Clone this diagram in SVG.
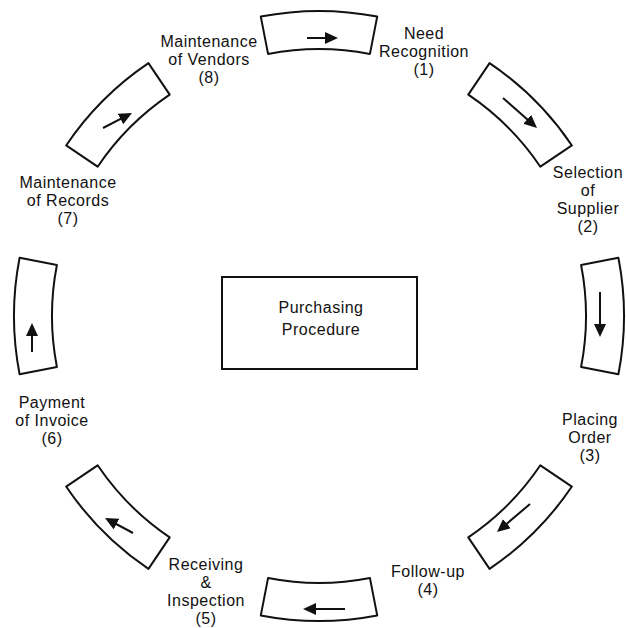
<svg xmlns="http://www.w3.org/2000/svg" width="626" height="628" viewBox="0 0 626 628">
  <style>
    .seg { fill: #fff; stroke: #111; stroke-width: 2; stroke-linejoin: round; }
    .arr { stroke: #111; stroke-width: 2; fill: none; marker-end: url(#head); }
    .lbl { font-family: "Liberation Sans", Arial, sans-serif; font-size: 16px; letter-spacing: 0.5px; fill: #111; text-anchor: middle; }
    .hub { fill: #fff; stroke: #111; stroke-width: 2; }
  </style>
  <defs>
    <marker id="head" viewBox="0 0 13 12" refX="4" refY="6" markerWidth="13" markerHeight="12" markerUnits="userSpaceOnUse" orient="auto">
      <path d="M0,0 L13,6 L0,12 Z" fill="#111"/>
    </marker>
  </defs>
  <rect width="626" height="628" fill="#fff"/>

  <!-- ring segments: annular sectors about (319,316), r 267..305, 22 degrees wide -->
  <g id="segments">
    <path id="seg-top" class="seg" d="M260.80,16.60 A305,305 0 0 1 377.20,16.60 L369.95,53.90 A267,267 0 0 0 268.05,53.90 Z"/>
    <path id="seg-top-right" class="seg" d="M489.55,63.14 A305,305 0 0 1 571.86,145.45 L540.35,166.70 A267,267 0 0 0 468.30,94.65 Z"/>
    <path id="seg-right" class="seg" d="M618.40,257.80 A305,305 0 0 1 618.40,374.20 L581.10,366.95 A267,267 0 0 0 581.10,265.05 Z"/>
    <path id="seg-bottom-right" class="seg" d="M571.86,486.55 A305,305 0 0 1 489.55,568.86 L468.30,537.35 A267,267 0 0 0 540.35,465.30 Z"/>
    <path id="seg-bottom" class="seg" d="M377.20,615.40 A305,305 0 0 1 260.80,615.40 L268.05,578.10 A267,267 0 0 0 369.95,578.10 Z"/>
    <path id="seg-bottom-left" class="seg" d="M148.45,568.86 A305,305 0 0 1 66.14,486.55 L97.65,465.30 A267,267 0 0 0 169.70,537.35 Z"/>
    <path id="seg-left" class="seg" d="M19.60,374.20 A305,305 0 0 1 19.60,257.80 L56.90,265.05 A267,267 0 0 0 56.90,366.95 Z"/>
    <path id="seg-top-left" class="seg" d="M66.14,145.45 A305,305 0 0 1 148.45,63.14 L169.70,94.65 A267,267 0 0 0 97.65,166.70 Z"/>
  </g>

  <!-- clockwise flow arrows inside the segments -->
  <g id="connectors">
    <line class="arr" x1="307" y1="38" x2="329" y2="38"/>
    <line class="arr" x1="503" y1="98" x2="530.25" y2="122.04"/>
    <line class="arr" x1="600" y1="292" x2="600" y2="328"/>
    <line class="arr" x1="530" y1="504" x2="503.86" y2="526.18"/>
    <line class="arr" x1="345" y1="609" x2="312" y2="609"/>
    <line class="arr" x1="133" y1="533" x2="112.93" y2="522.25"/>
    <line class="arr" x1="32" y1="352" x2="32" y2="332"/>
    <line class="arr" x1="103" y1="128" x2="124" y2="117.14"/>
  </g>

  <g id="hub">
    <rect class="hub" x="222" y="277" width="195" height="92"/>
    <text class="lbl" x="321" y="313">Purchasing</text>
    <text class="lbl" x="321" y="335">Procedure</text>
  </g>

  <g id="step1">
    <text class="lbl" x="424" y="39">Need</text>
    <text class="lbl" x="424" y="57">Recognition</text>
    <text class="lbl" x="424" y="75">(1)</text>
  </g>
  <g id="step2">
    <text class="lbl" x="588" y="178">Selection</text>
    <text class="lbl" x="588" y="196">of</text>
    <text class="lbl" x="588" y="214">Supplier</text>
    <text class="lbl" x="588" y="232">(2)</text>
  </g>
  <g id="step3">
    <text class="lbl" x="590" y="425">Placing</text>
    <text class="lbl" x="590" y="443">Order</text>
    <text class="lbl" x="590" y="461">(3)</text>
  </g>
  <g id="step4">
    <text class="lbl" x="428" y="577">Follow-up</text>
    <text class="lbl" x="428" y="595">(4)</text>
  </g>
  <g id="step5">
    <text class="lbl" x="206" y="570">Receiving</text>
    <text class="lbl" x="206" y="588">&amp;</text>
    <text class="lbl" x="206" y="606">Inspection</text>
    <text class="lbl" x="206" y="624">(5)</text>
  </g>
  <g id="step6">
    <text class="lbl" x="52" y="408">Payment</text>
    <text class="lbl" x="52" y="426">of Invoice</text>
    <text class="lbl" x="52" y="444">(6)</text>
  </g>
  <g id="step7">
    <text class="lbl" x="68" y="188">Maintenance</text>
    <text class="lbl" x="68" y="206">of Records</text>
    <text class="lbl" x="68" y="224">(7)</text>
  </g>
  <g id="step8">
    <text class="lbl" x="209" y="47">Maintenance</text>
    <text class="lbl" x="209" y="65">of Vendors</text>
    <text class="lbl" x="209" y="83">(8)</text>
  </g>
</svg>
